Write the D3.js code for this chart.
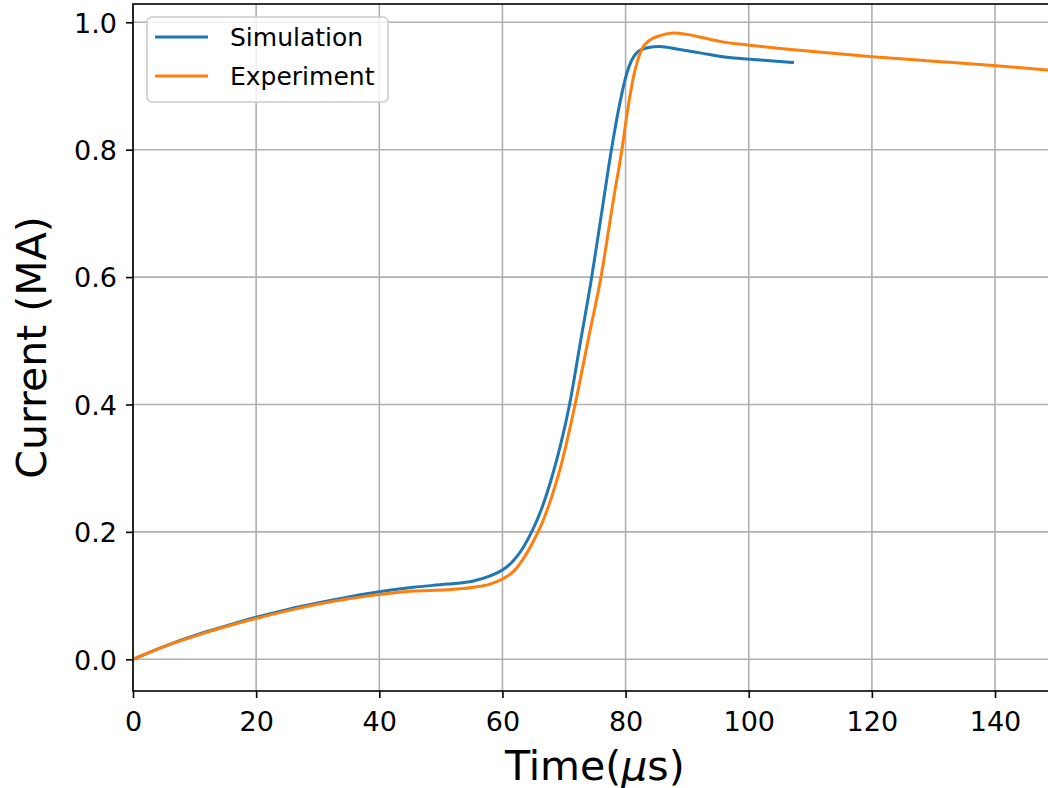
<!DOCTYPE html>
<html>
<head>
<meta charset="utf-8">
<script src="https://cdn.jsdelivr.net/npm/d3@7"></script>
<style>
  body { margin: 0; background: #fff; }
  svg { display: block; font-family: "DejaVu Sans", sans-serif; }
</style>
</head>
<body>
<div id="chart"></div>
<script>
// values
let simTime = [0, 5, 10.9, 15, 20, 25, 29.8, 35, 40, 45.5, 51, 55.3, 58, 60, 61.8, 63.4, 65, 66.5, 68, 69.4, 70.9, 72.7, 74.5, 76.1, 77.7, 79, 80.2, 81.8, 83.5, 85.6, 88.3, 92.1, 96.4, 100.2, 104.5, 107.1];
let simCurrent = [0, 0.020, 0.040, 0.052, 0.066, 0.078, 0.088, 0.098, 0.106, 0.113, 0.118, 0.123, 0.131, 0.140, 0.155, 0.176, 0.205, 0.24, 0.285, 0.335, 0.40, 0.50, 0.60, 0.70, 0.80, 0.87, 0.92, 0.952, 0.960, 0.962, 0.958, 0.952, 0.945, 0.942, 0.939, 0.937];

let expTime = [0, 5, 10.9, 15, 20, 25, 29.8, 35, 40, 45.5, 51, 55.3, 58, 60, 61.8, 63.4, 65, 66.4, 68, 69.4, 71.8, 74, 76, 78, 79.4, 80.3, 81.3, 82.6, 84, 85.6, 87.8, 89.9, 92.5, 95.3, 100.2, 106, 112.7, 120.1, 130, 139.7, 148.6, 150];
let expCurrent = [0, 0.020, 0.039, 0.051, 0.064, 0.076, 0.086, 0.095, 0.1015, 0.107, 0.109, 0.113, 0.118, 0.126, 0.138, 0.158, 0.185, 0.213, 0.255, 0.30, 0.40, 0.505, 0.60, 0.72, 0.80, 0.86, 0.915, 0.957, 0.9725, 0.979, 0.983, 0.981, 0.976, 0.970, 0.964, 0.958, 0.952, 0.946, 0.939, 0.932, 0.925, 0.924];

let xTicks = [0, 20, 40, 60, 80, 100, 120, 140];
let yTicks = [0.0, 0.2, 0.4, 0.6, 0.8, 1.0];
let seriesNames = ["Simulation", "Experiment"];
let seriesColors = ["#1f77b4", "#ff7f0e"];

let width = 1048, height = 788;
let plotLeft = 133, plotTop = 4, plotBottom = 691, plotRight = 1056.6;

let svg = d3.select("#chart").append("svg")
  .attr("width", width)
  .attr("height", height);

let x = d3.scaleLinear().domain([0, 150]).range([plotLeft, plotRight]);
let y = d3.scaleLinear().domain([-0.0498, 1.0287]).range([plotBottom, plotTop]);

svg.append("clipPath").attr("id", "plotclip")
  .append("rect")
  .attr("x", plotLeft).attr("y", plotTop)
  .attr("width", plotRight - plotLeft).attr("height", plotBottom - plotTop);

// grid
let grid = svg.append("g");
grid.selectAll(".gx").data(xTicks).enter().append("line")
  .attr("x1", d => x(d)).attr("x2", d => x(d))
  .attr("y1", plotTop).attr("y2", plotBottom)
  .attr("stroke", "#b0b0b0").attr("stroke-width", 1.6);
grid.selectAll(".gy").data(yTicks).enter().append("line")
  .attr("x1", plotLeft).attr("x2", plotRight)
  .attr("y1", d => y(d)).attr("y2", d => y(d))
  .attr("stroke", "#b0b0b0").attr("stroke-width", 1.6);

// lines
let line = d3.line()
  .x(d => x(d[0]))
  .y(d => y(d[1]))
  .curve(d3.curveMonotoneX);

let simData = d3.zip(simTime, simCurrent);
let expData = d3.zip(expTime, expCurrent);

let plot = svg.append("g").attr("clip-path", "url(#plotclip)");
[simData, expData].forEach((data, i) => {
  plot.append("path")
    .datum(data)
    .attr("fill", "none")
    .attr("stroke", seriesColors[i])
    .attr("stroke-width", 3)
    .attr("stroke-linejoin", "round")
    .attr("stroke-linecap", "square")
    .attr("d", line);
});

// axes
let xAxis = svg.append("g")
  .attr("transform", "translate(0," + plotBottom + ")")
  .call(d3.axisBottom(x).tickValues(xTicks).tickFormat(d3.format("d")).tickSize(7).tickPadding(7));
let yAxis = svg.append("g")
  .attr("transform", "translate(" + plotLeft + ",0)")
  .call(d3.axisLeft(y).tickValues(yTicks).tickFormat(d3.format(".1f")).tickSize(7).tickPadding(9));

[xAxis, yAxis].forEach(a => {
  a.select(".domain").remove();
  a.selectAll(".tick line").attr("stroke", "#000").attr("stroke-width", 1.6);
  a.selectAll(".tick text")
    .attr("fill", "#000")
    .style("font-family", "DejaVu Sans")
    .style("font-size", "27px");
});
xAxis.selectAll(".tick text").attr("dy", "0.95em");
yAxis.selectAll(".tick text").attr("dy", "0.36em");

// spines
let spines = svg.append("g").attr("stroke", "#000").attr("stroke-width", 1.6).attr("fill", "none");
spines.append("rect")
  .attr("x", plotLeft).attr("y", plotTop)
  .attr("width", plotRight - plotLeft).attr("height", plotBottom - plotTop);

// axis labels
let xl = svg.append("text")
  .attr("x", (plotLeft + plotRight) / 2)
  .attr("y", 780)
  .attr("text-anchor", "middle")
  .style("font-size", "41px");
xl.append("tspan").text("Time(");
xl.append("tspan").style("font-style", "italic").text("\u03bc");
xl.append("tspan").text("s)");

svg.append("text")
  .attr("transform", "translate(46," + ((plotTop + plotBottom) / 2) + ") rotate(-90)")
  .attr("text-anchor", "middle")
  .style("font-size", "41px")
  .text("Current (MA)");

// legend
let legend = svg.append("g");
legend.append("rect")
  .attr("x", 147).attr("y", 17)
  .attr("width", 241).attr("height", 85)
  .attr("rx", 5)
  .attr("fill", "#fff").attr("fill-opacity", 0.8)
  .attr("stroke", "#cccccc").attr("stroke-width", 1.6);

let items = legend.selectAll(".item").data(seriesNames).enter().append("g")
  .attr("transform", (d, i) => "translate(0," + (37 + i * 39) + ")");
items.append("line")
  .attr("x1", 155).attr("x2", 208)
  .attr("stroke", (d, i) => seriesColors[i])
  .attr("stroke-width", 3);
items.append("text")
  .attr("x", 230).attr("y", 9)
  .style("font-size", "25px")
  .text(d => d);
</script>
</body>
</html>
